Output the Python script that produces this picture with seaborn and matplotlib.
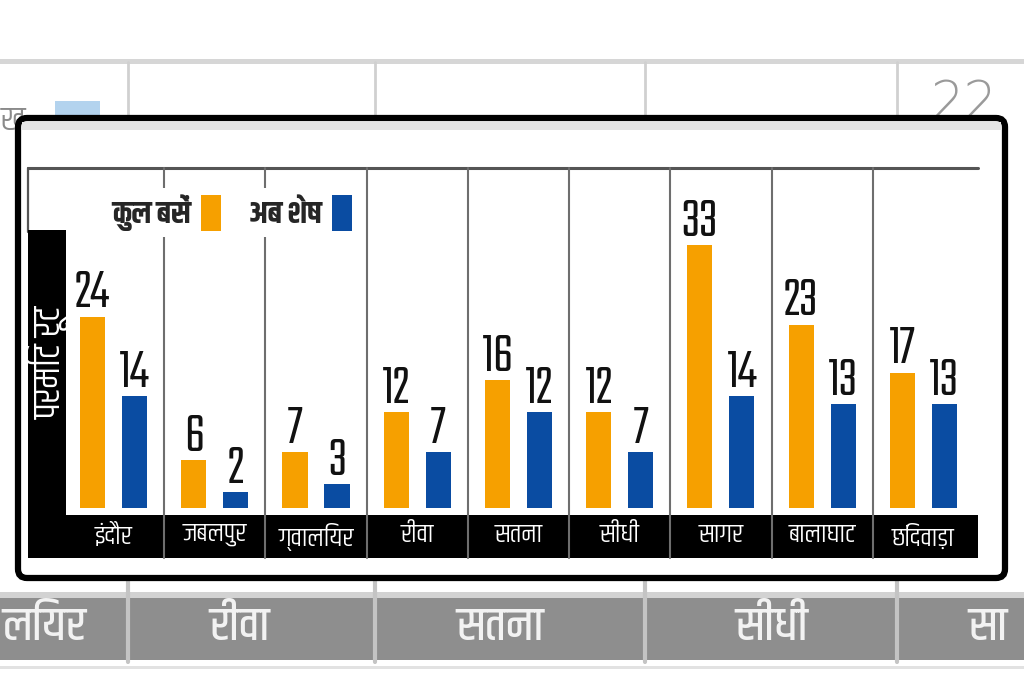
import matplotlib
matplotlib.use("Agg")
import numpy as np
import pandas as pd
import seaborn as sns
import matplotlib.pyplot as plt
from matplotlib.patches import Rectangle, FancyBboxPatch, Patch
from matplotlib import font_manager as fm
from matplotlib.ft2font import FT2Font

# ---------------- data ----------------
cities = ["इंदौर", "जबलपुर", "ग्वालियर", "रीवा", "सतना", "सीधी", "सागर", "बालाघाट", "छिंदवाड़ा"]
total_buses = [24, 6, 7, 12, 16, 12, 33, 23, 17]
remaining_buses = [14, 2, 3, 7, 12, 7, 14, 13, 13]
series_names = ["कुल बसें", "अब शेष"]
side_label = "परमिट रूट"
band_labels = ["लियर", "रीवा", "सतना", "सीधी", "सा"]
corner_number = "22"
corner_fragment = "ख"

ORANGE = "#F6A000"
BLUE = "#0A4CA2"

# ---------------- fonts ----------------
def covers(name, cp):
    for f in fm.fontManager.ttflist:
        if f.name == name:
            try:
                if cp in FT2Font(f.fname).get_charmap():
                    return True
            except Exception:
                pass
    return False

names = {f.name for f in fm.fontManager.ttflist}

def pick(prefs, cp):
    for n in prefs:
        if n in names and covers(n, cp):
            return n
    return None

deva = pick(["Khand", "Teko", "Yantramanav", "Hind", "Mukta", "Noto Sans Devanagari",
             "Rajdhani", "Poppins", "Martel Sans", "Karma", "Sarala"], 0x0915)
if deva is None:
    for f in fm.fontManager.ttflist:
        try:
            if 0x0915 in FT2Font(f.fname).get_charmap():
                deva = f.name
                break
        except Exception:
            pass
numfont = pick(["Teko", "Oswald", "Antonio", "Pathway Gothic One", "Roboto Condensed"],
               ord("2")) or "DejaVu Sans"

sns.set_theme(style="white")
fam = ([deva] if deva else []) + ["DejaVu Sans"]
plt.rcParams["font.family"] = fam

fig = plt.figure(figsize=(10.24, 6.83), dpi=100)
fig.patch.set_facecolor("white")

# ---------------- background (pixel coordinates) ----------------
bg = fig.add_axes([0, 0, 1, 1], zorder=0)
bg.set_xlim(0, 1024)
bg.set_ylim(683, 0)
bg.axis("off")

bg.add_patch(Rectangle((0, 59), 1024, 5, color="#d6d6d6", lw=0, zorder=1))
for xv in [128, 375, 645, 897]:
    bg.plot([xv, xv], [62, 118], color="#d0d0d0", lw=2, zorder=1)
    bg.plot([xv, xv], [580, 662], color="#c4c4c4", lw=3, zorder=3)
bg.add_patch(Rectangle((55, 101), 45, 17, color="#b3d3ee", lw=0, zorder=1))
bg.text(964, 104, corner_number, color="#9a9a9a", fontsize=38, ha="center",
        va="center", family="DejaVu Sans", fontweight="light", zorder=1)
bg.text(1, 120, corner_fragment, color="#8a8a8a", fontsize=24, ha="left",
        va="center", zorder=1)

bg.add_patch(Rectangle((0, 592), 1024, 6, color="#d2d2d2", lw=0, zorder=2))
bg.add_patch(Rectangle((0, 598), 1024, 62, color="#8e8e8e", lw=0, zorder=2))
bg.add_patch(Rectangle((0, 666), 1024, 3, color="#e2e2e2", lw=0, zorder=2))
band_pos = [(2, "left"), (240, "center"), (500, "center"), (772, "center"), (968, "left")]
for lab, (xp, ha) in zip(band_labels, band_pos):
    bg.text(xp, 626, lab, color="#f2f2f2", fontsize=34, fontweight="medium",
            ha=ha, va="center", zorder=4)

bg.add_patch(FancyBboxPatch((18, 118), 987, 460,
                            boxstyle="round,pad=0,rounding_size=9",
                            facecolor="white", edgecolor="black", lw=4.5, zorder=5))
bg.add_patch(Rectangle((22, 122), 979, 8, color="#e4e4e4", lw=0, zorder=6))

bg.plot([28, 978], [168, 168], color="#555555", lw=2.2, zorder=7)
bg.plot([28, 28], [168, 232], color="#555555", lw=1.6, zorder=7)
bg.add_patch(Rectangle((28, 515), 950, 43, color="black", lw=0, zorder=7))
bg.add_patch(Rectangle((28, 230), 38, 328, color="black", lw=0, zorder=7))
bg.text(48, 362, side_label, color="white", fontsize=27, fontweight="normal",
        rotation=90, ha="center", va="center", zorder=8)

# ---------------- bar chart ----------------
ax = fig.add_axes([68 / 1024, 1 - 515 / 683, 910 / 1024, 347 / 683], zorder=1)
ax.patch.set_alpha(0)

df = pd.DataFrame({
    "city": cities * 2,
    "series": [series_names[0]] * len(cities) + [series_names[1]] * len(cities),
    "value": total_buses + remaining_buses,
})
sns.barplot(data=df, x="city", y="value", hue="series", order=cities,
            hue_order=series_names, palette=[ORANGE, BLUE], saturation=1,
            width=0.83, gap=0.4, legend=False, ax=ax, linewidth=0, zorder=3)

for cont in ax.containers:
    ax.bar_label(cont, fmt="%d", padding=1, fontsize=41,
                 family=[numfont, "DejaVu Sans"], color="#111111")

for i in range(len(cities) - 1):
    ax.axvline(i + 0.5, ymin=-0.124, ymax=1.0, color="#6e6e6e", lw=1.5,
               clip_on=False, zorder=1)

ax.set_xlim(-0.45, 8.54)
ax.set_ylim(-0.88, 42.66)
ax.set_yticks([])
ax.set_xlabel("")
ax.set_ylabel("")
for s in ax.spines.values():
    s.set_visible(False)
ax.tick_params(axis="x", length=0, pad=6, labelcolor="white", labelsize=19)

handles = [Patch(facecolor=ORANGE, edgecolor="none"),
           Patch(facecolor=BLUE, edgecolor="none")]
leg = ax.legend(handles, series_names, loc="upper left",
                bbox_to_anchor=(0.025, 0.985), ncol=2, markerfirst=False,
                frameon=True, facecolor="white", edgecolor="none", framealpha=1,
                handlelength=0.65, handleheight=1.4, handletextpad=0.35,
                columnspacing=0.9, borderpad=0.2,
                prop={"size": 22, "weight": "bold"})
leg.set_zorder(10)

fig.savefig("out.png", dpi=100, facecolor="white")
